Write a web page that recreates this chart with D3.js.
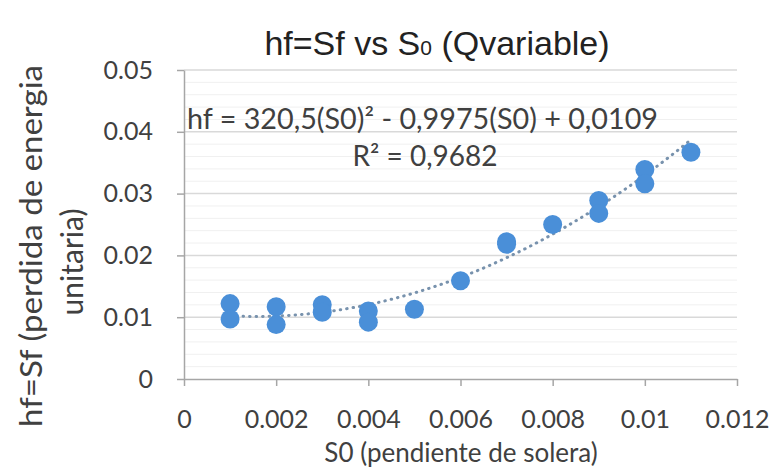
<!DOCTYPE html>
<html>
<head>
<meta charset="utf-8">
<script src="https://cdn.jsdelivr.net/npm/d3@7"></script>
<style>
  html, body { margin: 0; padding: 0; background: #fff; }
  svg { display: block; }
</style>
</head>
<body>
<svg id="chart" width="770" height="470"></svg>
<script>
// ---- data ----
const s0Values = [0.001, 0.001, 0.002, 0.002, 0.003, 0.003, 0.004, 0.004, 0.005, 0.006, 0.007, 0.007, 0.008, 0.009, 0.009, 0.010, 0.010, 0.011];
const hfValues = [0.0122, 0.0097, 0.0117, 0.0088, 0.0120, 0.0108, 0.0110, 0.0092, 0.0113, 0.0159, 0.0222, 0.0218, 0.0250, 0.0289, 0.0268, 0.0339, 0.0316, 0.0367];
const xTicks = [0, 0.002, 0.004, 0.006, 0.008, 0.01, 0.012];
const xTickLabels = ["0", "0.002", "0.004", "0.006", "0.008", "0.01", "0.012"];
const yTicks = [0, 0.01, 0.02, 0.03, 0.04, 0.05];
const yTickLabels = ["0", "0.01", "0.02", "0.03", "0.04", "0.05"];
const yMinorTicks = [0.002, 0.004, 0.006, 0.008, 0.012, 0.014, 0.016, 0.018, 0.022, 0.024, 0.026, 0.028, 0.032, 0.034, 0.036, 0.038, 0.042, 0.044, 0.046, 0.048];
const trendCoefs = [320.5, -0.9975, 0.0109]; // a, b, c of hf = a*S0^2 + b*S0 + c
const trendRange = [0.001, 0.011];
const titleText = "hf=Sf vs S";
const equationText = "hf = 320,5(S0)² - 0,9975(S0) + 0,0109";
const r2Text = "R² = 0,9682";
const xAxisTitle = "S0 (pendiente de solera)";
const yAxisTitle = ["hf=Sf (perdida de energia", "unitaria)"];

const points = s0Values.map((x, i) => ({ x, y: hfValues[i] }));

// ---- layout ----
const svg = d3.select("#chart");
const plot = { left: 184, right: 737, top: 70, bottom: 379 };
const x = d3.scaleLinear().domain([0, 0.012]).range([plot.left, plot.right]);
const y = d3.scaleLinear().domain([0, 0.05]).range([plot.bottom, plot.top]);

const labelFont = "Lato, 'Open Sans', sans-serif";
const axisColor = "#a6a6a6";
const textColor = "#404040";

// minor gridlines
svg.append("g")
  .selectAll("line").data(yMinorTicks).join("line")
  .attr("x1", plot.left).attr("x2", plot.right)
  .attr("y1", d => y(d)).attr("y2", d => y(d))
  .attr("stroke", "#f0f0f0").attr("stroke-width", 1);

// major gridlines
svg.append("g")
  .selectAll("line").data(yTicks.slice(1)).join("line")
  .attr("x1", plot.left).attr("x2", plot.right)
  .attr("y1", d => y(d)).attr("y2", d => y(d))
  .attr("stroke", "#d9d9d9").attr("stroke-width", 1.5);

// axes
const xAxis = d3.axisBottom(x).tickValues(xTicks)
  .tickFormat((d, i) => xTickLabels[i]).tickSizeInner(7).tickSizeOuter(0).tickPadding(24);
const gx = svg.append("g").attr("transform", `translate(0,${plot.bottom})`).call(xAxis);
gx.select(".domain").attr("stroke", axisColor).attr("stroke-width", 1.5);
gx.selectAll(".tick line").attr("stroke", axisColor).attr("stroke-width", 1.5);
gx.selectAll(".tick text").attr("font-family", labelFont).attr("font-size", 25)
  .attr("fill", textColor);

const yAxis = d3.axisLeft(y).tickValues(yTicks)
  .tickFormat((d, i) => yTickLabels[i]).tickSizeInner(7).tickSizeOuter(0).tickPadding(24);
const gy = svg.append("g").attr("transform", `translate(${plot.left},0)`).call(yAxis);
gy.select(".domain").attr("stroke", axisColor).attr("stroke-width", 1.5);
gy.selectAll(".tick line").attr("stroke", axisColor).attr("stroke-width", 1.5);
gy.selectAll(".tick text").attr("font-family", labelFont).attr("font-size", 25)
  .attr("fill", textColor);

// trendline
const trendX = d3.range(0, 101).map(i => trendRange[0] + (trendRange[1] - trendRange[0]) * i / 100);
const trend = trendX.map(s => ({ x: s, y: trendCoefs[0] * s * s + trendCoefs[1] * s + trendCoefs[2] }));
svg.append("path")
  .datum(trend)
  .attr("d", d3.line().x(d => x(d.x)).y(d => y(d.y)))
  .attr("fill", "none")
  .attr("stroke", "#7892ad")
  .attr("stroke-width", 3)
  .attr("stroke-linecap", "round")
  .attr("stroke-dasharray", "0.5,6");

// points
svg.append("g")
  .selectAll("circle").data(points).join("circle")
  .attr("cx", d => x(d.x)).attr("cy", d => y(d.y))
  .attr("r", 9.5)
  .attr("fill", "#4a8fd8");

// title
const title = svg.append("text")
  .attr("x", 437).attr("y", 55)
  .attr("text-anchor", "middle")
  .attr("font-family", "'Liberation Sans Narrow', 'Liberation Sans', sans-serif")
  .attr("font-size", 34)
  .attr("fill", "#222");
title.append("tspan").text(titleText);
title.append("tspan").attr("font-size", 21).text("0");
title.append("tspan").text(" (Qvariable)");

// equation labels
svg.append("text")
  .attr("x", 187).attr("y", 129)
  .attr("font-family", labelFont).attr("font-size", 28).attr("fill", textColor)
  .attr("textLength", 471).attr("lengthAdjust", "spacingAndGlyphs")
  .text(equationText);
svg.append("text")
  .attr("x", 425).attr("y", 166)
  .attr("text-anchor", "middle")
  .attr("font-family", labelFont).attr("font-size", 28).attr("fill", textColor)
  .text(r2Text);

// axis titles
svg.append("text")
  .attr("x", 461).attr("y", 462)
  .attr("text-anchor", "middle")
  .attr("font-family", labelFont).attr("font-size", 26).attr("fill", textColor)
  .text(xAxisTitle);

const yTitlePos = [[42, 246], [83, 262]];
const yTitleLen = [362, null];
yAxisTitle.forEach((t, i) => {
  const el = svg.append("text")
    .attr("transform", `translate(${yTitlePos[i][0]},${yTitlePos[i][1]}) rotate(-90)`)
    .attr("text-anchor", "middle")
    .attr("font-family", labelFont).attr("font-size", 30).attr("fill", textColor)
    .text(t);
  if (yTitleLen[i]) el.attr("textLength", yTitleLen[i]).attr("lengthAdjust", "spacingAndGlyphs");
});
</script>
</body>
</html>
